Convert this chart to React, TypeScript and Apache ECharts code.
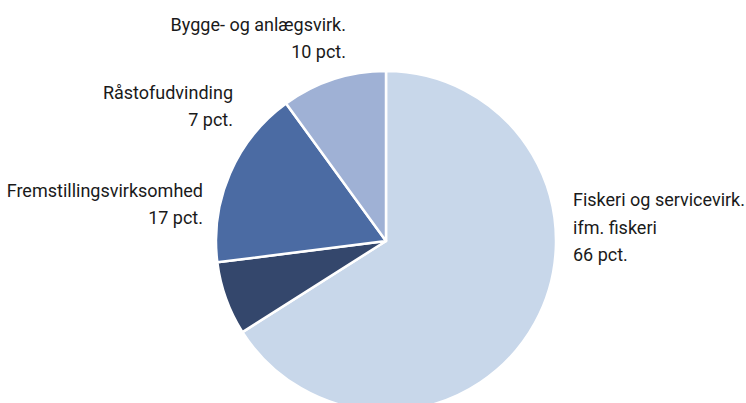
import React, { useEffect, useRef } from "react";
import * as echarts from "echarts";

const categories = [
  "Fiskeri og servicevirk.\nifm. fiskeri",
  "Råstofudvinding",
  "Fremstillingsvirksomhed",
  "Bygge- og anlægsvirk.",
];
const values = [66, 7, 17, 10];
const colors = ["#c8d7ea", "#34476c", "#4b6ba3", "#9fb1d5"];

// label anchor positions (x, y, align) for each slice
const labelPositions: [number, number, string][] = [
  [573, 227, "left"],
  [233, 106, "right"],
  [203, 204, "right"],
  [346, 38, "right"],
];

const FONT = "Roboto, 'Liberation Sans', sans-serif";

export default function App() {
  const ref = useRef<HTMLDivElement>(null);
  useEffect(() => {
    document.body.style.margin = "0";
    const chart = echarts.init(ref.current!, null, { renderer: "svg" });
    chart.setOption({
      animation: false,
      backgroundColor: "#ffffff",
      series: [
        {
          type: "pie",
          center: [386, 241],
          radius: 170,
          startAngle: 90,
          clockwise: true,
          avoidLabelOverlap: false,
          data: categories.map((name, i) => ({
            name,
            value: values[i],
            itemStyle: { color: colors[i] },
          })),
          itemStyle: { borderColor: "#ffffff", borderWidth: 2.5 },
          label: {
            show: true,
            position: "outside",
            formatter: "{b}\n{c} pct.",
            color: "#1a1a1a",
            fontFamily: FONT,
            fontSize: 18,
            lineHeight: 27.5,
          },
          labelLine: { show: false },
          labelLayout: (params: any) => {
            const p = labelPositions[params.dataIndex];
            return { x: p[0], y: p[1], align: p[2], verticalAlign: "middle" };
          },
          emphasis: { disabled: true },
        },
      ],
    });
    return () => chart.dispose();
  }, []);
  return <div ref={ref} style={{ width: 746, height: 403 }} />;
}
